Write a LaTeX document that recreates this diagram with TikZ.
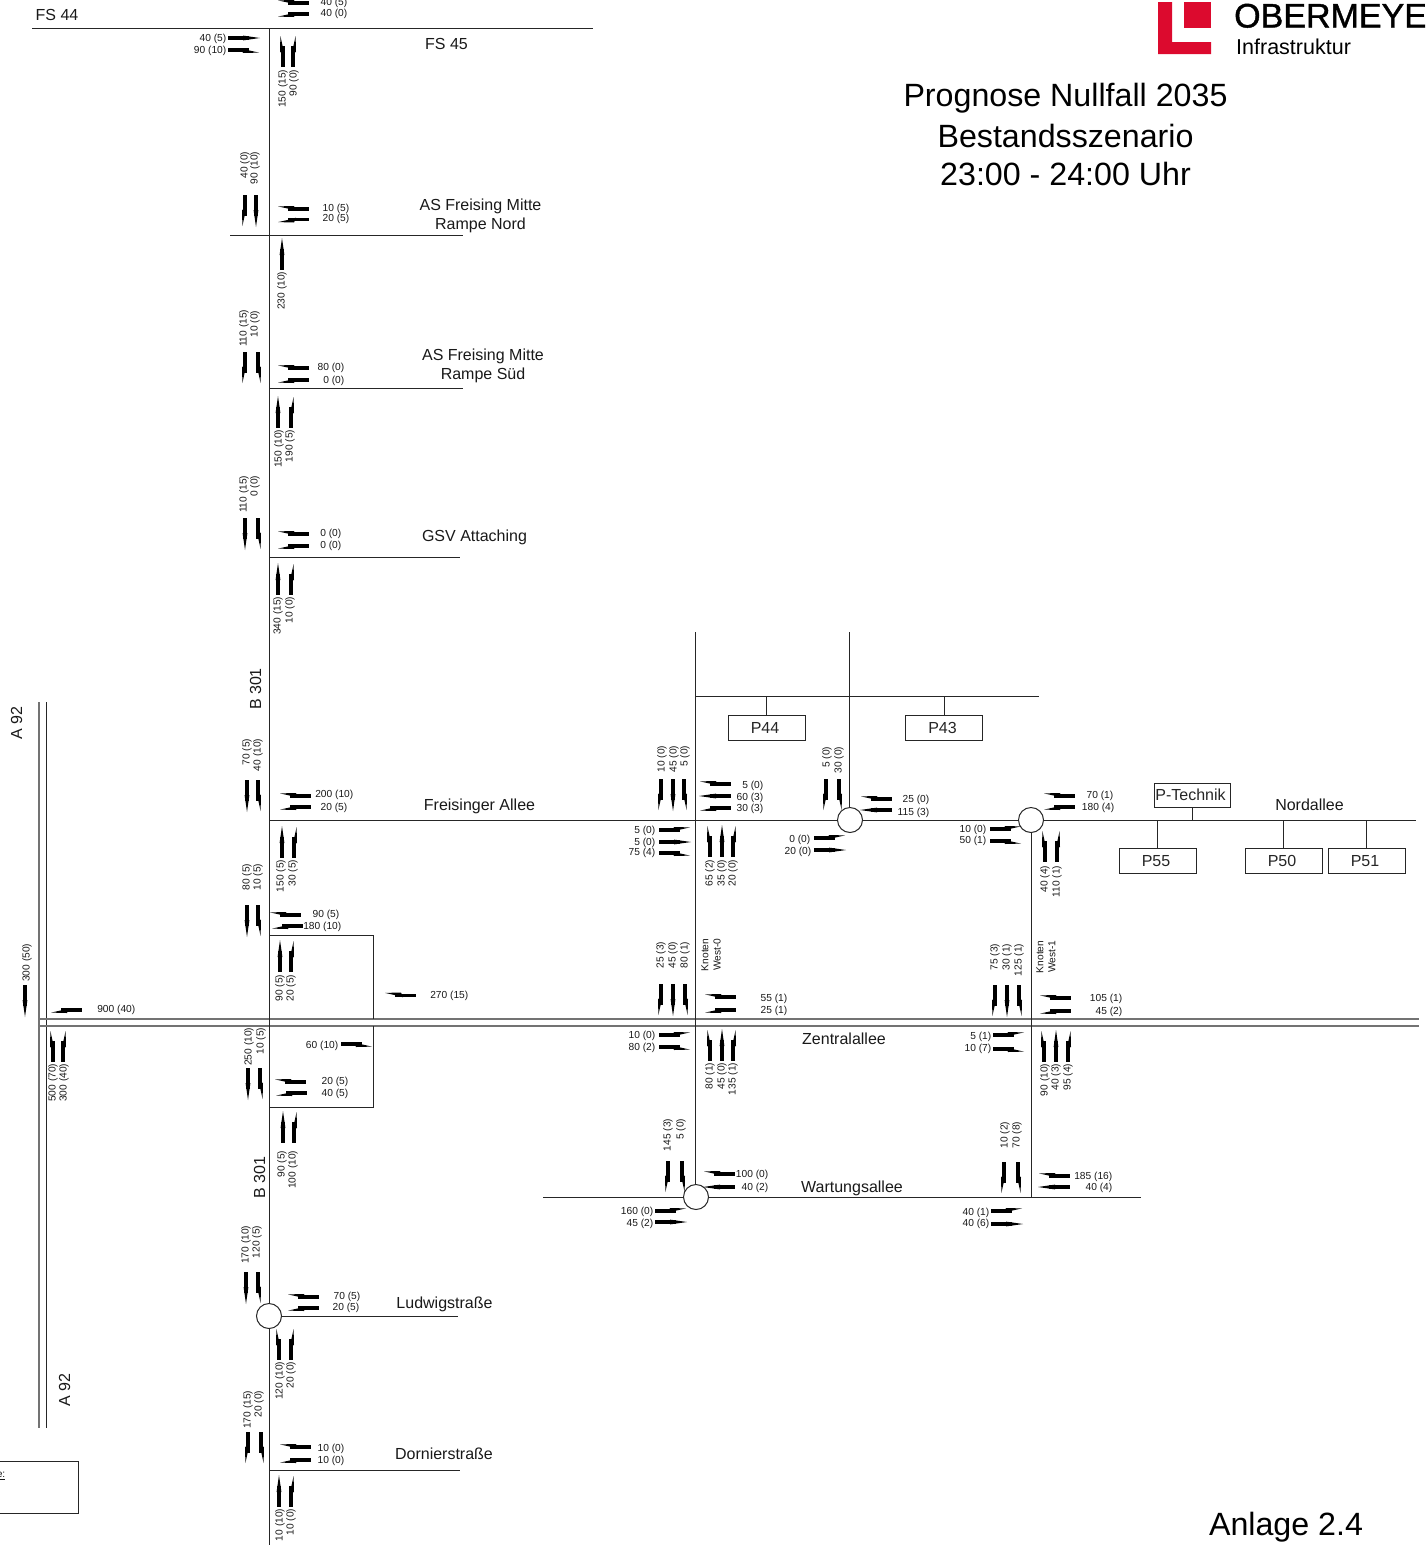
\documentclass[tikz,border=0pt]{standalone}
\usepackage{fontspec}
\setmainfont{Liberation Sans}
\newfontfamily\firmfont[FakeBold=1.2]{Liberation Sans}
\usepackage{xcolor}
\usetikzlibrary{arrows.meta,calc,positioning}
\definecolor{logored}{HTML}{DC0A2E}
\tikzset{
  line cap=butt,
  road/.style={line width=1pt, black!85},
  greyroad/.style={line width=1.3pt, black!55},
  flowtext/.style={inner sep=0pt, anchor=east, black!90, xshift=0.5pt, yshift=-1pt,
    font=\fontsize{10.2pt}{11pt}\selectfont},
  flowup/.style={inner sep=0pt, anchor=east, black!90, rotate=90, xshift=0.5pt,
    font=\fontsize{10.2pt}{11pt}\selectfont},
  streetname/.style={inner sep=0pt, align=center, black!90, yshift=-1pt, font=\fontsize{16pt}{19pt}\selectfont},
  titletext/.style={inner sep=0pt, align=center, font=\fontsize{32.2pt}{40pt}\selectfont},
  parkbox/.style={draw, black!85, line width=1pt, inner sep=0pt, minimum width=77pt, minimum height=25pt,
    font=\fontsize{16pt}{19pt}\selectfont, text depth=0pt, execute at begin node={\kern-3pt}},
  junction/.style={circle, draw, black!85, fill=white, line width=1pt, inner sep=0pt, minimum size=25pt},
  flowS/.pic={
    \fill (0,-1.6) rectangle (21,1.6);
    \fill (15,-2.4) -- (32,0) -- (15,2.4) -- cycle;
  },
  flowR/.pic={
    \fill (0,-1.6) rectangle (21,1.6);
    \fill (13,-1.8) -- (15,3) -- (31,2.6) -- (21,0.4) -- cycle;
  },
  flowL/.pic={
    \fill (0,-1.6) rectangle (21,1.6);
    \fill (13,1.8) -- (15,-3) -- (31,-2.6) -- (21,-0.4) -- cycle;
  }
}

\begin{document}
\begin{tikzpicture}[x=1pt, y=-1pt]
    \useasboundingbox (0,0) rectangle (1425,1545);
    \clip (0,0) rectangle (1425,1545);

    % A 92 and the double road
    \draw[greyroad] (39,702) -- (39,1428);
    \draw[road] (46,702) -- (46,1428);
    \draw[greyroad] (38,1019) -- (1419,1019);
    \draw[greyroad] (38,1026) -- (1419,1026);

    % B 301 and side roads
    \draw[road] (269,28) -- (269,1545);
    \draw[road] (32,28) -- (593,28);
    \draw[road] (230,235) -- (463,235);
    \draw[road] (269,388) -- (463,388);
    \draw[road] (269,557) -- (460,557);
    \draw[road] (269,1316) -- (458,1316);
    \draw[road] (269,1470) -- (460,1470);
    \draw[road] (269,820) -- (1416,820);
    \draw[road] (269,935) -- (373,935) -- (373,1019);
    \draw[road] (373,1026) -- (373,1107) -- (269,1107);
    \draw[road] (-2,1461) -- (78,1461) -- (78,1513) -- (-2,1513);

    % east part
    \draw[road] (695.5,632) -- (695.5,1197);
    \draw[road] (849.5,632) -- (849.5,820);
    \draw[road] (1031,820) -- (1031,1197);
    \draw[road] (696,696) -- (1039,696);
    \draw[road] (543,1197) -- (1141,1197);

    \node[parkbox] (pfourfour) at (766.5,728) {P44};
    \node[parkbox] (pfourthree) at (944,728) {P43};
    \node[parkbox, minimum width=76pt, minimum height=24pt] (ptechnik) at (1192,795) {P-Technik};
    \node[parkbox] (pfivefive) at (1157.5,861) {P55};
    \node[parkbox] (pfivezero) at (1283.5,861) {P50};
    \node[parkbox] (pfiveone) at (1366.5,861) {P51};
    \coordinate (spine) at (766.5,696);
    \draw[road] (spine) -- (pfourfour.north);
    \draw[road] (944,696) -- (pfourthree.north);
    \draw[road] (ptechnik.south) -- (1192,820);
    \draw[road] (1157.5,820) -- (pfivefive.north);
    \draw[road] (1283.5,820) -- (pfivezero.north);
    \draw[road] (1366.5,820) -- (pfiveone.north);

    \node[junction] (kreiselnord) at (850,820) {};
    \node[junction] (kreiselost) at (1031,820) {};
    \node[junction] (kreiselsued) at (696,1197) {};
    \node[junction] (kreiselludwig) at (269,1316) {};

    % arrows on the B 301
    \foreach \ax/\ay/\rot/\kind in {
        309/3/180/R, 309/14/180/L, 228/38/0/S, 228/50/0/R, 283/67/90/L, 293/67/90/R,
        245/195/270/R, 256/195/270/S, 309/209/180/R, 309/219.5/180/L,
        282/270/90/S, 245/352/270/R, 258/352/270/L, 309/368/180/R, 309/380/180/L,
        278/428/90/S, 291/428/90/R, 245/518/270/S, 258/518/270/L, 309/534/180/R, 309/546/180/L,
        278/595/90/S, 291/595/90/R, 247/780/270/S, 258/780/270/L, 311/796/180/R, 311/807/180/L,
        282/858/90/S, 294/858/90/R, 247/905/270/S, 258/905/270/L, 301/915/180/R, 303/926/180/L,
        280/972/90/S, 291/972/90/R, 416/995.5/180/R, 25/985/270/S, 82/1010/180/L,
        53/1062/90/L, 63/1062/90/R, 341/1044/0/R, 248/1068/270/S, 260/1068/270/L,
        306/1082/180/R, 307/1093/180/L, 283/1143/90/S, 294/1143/90/R,
        246/1272/270/S, 258/1272/270/L, 319/1297/180/R, 319/1308/180/L,
        279/1360/90/L, 291/1360/90/R, 248/1432/270/R, 261/1432/270/L,
        311/1447/180/R, 311/1460/180/L, 279/1507/90/S, 291/1507/90/R}
        \pic[rotate=\rot] at (\ax,\ay) {flow\kind};

    % arrows on the east part
    \foreach \ax/\ay/\rot/\kind in {
        661/779/270/R, 673/779/270/S, 684/779/270/L, 731/784/180/R, 731/796/180/S, 731/808/180/L,
        659/830/0/L, 659/842/0/S, 659/853/0/R, 710/857/90/L, 722/857/90/S, 733/857/90/R,
        826/779/270/R, 839/779/270/L, 892/799/180/R, 892/810/180/S, 814/838/0/L, 814/850/0/S,
        1075/796/180/R, 1075/807/180/L, 990/829/0/L, 990/841/0/R, 1045/862/90/L, 1057/862/90/R,
        661/984/270/R, 673/984/270/S, 685/984/270/L, 736/997/180/R, 736/1010/180/L,
        659/1035/0/L, 659/1047/0/R, 710/1061/90/L, 722/1061/90/S, 733/1061/90/R,
        995/985/270/R, 1007/985/270/S, 1019/985/270/L, 1071/998/180/R, 1071/1011/180/L,
        993/1035/0/L, 993/1049/0/R, 1044/1062/90/L, 1056/1062/90/S, 1068/1062/90/R,
        668/1161/270/R, 682/1161/270/L, 735/1174/180/R, 735/1187/180/S, 655/1211/0/L, 655/1222/0/S,
        1004/1162/270/R, 1018/1162/270/L, 1070/1176/180/R, 1070/1187/180/S, 991/1211/0/L, 991/1224/0/S}
        \pic[rotate=\rot] at (\ax,\ay) {flow\kind};

    % horizontal volumes
    \foreach \lx/\ly/\val in {
        347/2/40 (5), 347/13/40 (0), 226/38/40 (5), 226/50/90 (10), 349/208/10 (5), 349/218/20 (5),
        344/367/80 (0), 344/380/0 (0), 341/533/0 (0), 341/545/0 (0), 353/794/200 (10), 347/807/20 (5),
        339/914/90 (5), 341/926/180 (10), 468/995/270 (15), 135/1009/900 (40), 338/1045/60 (10),
        348/1081/20 (5), 348/1093/40 (5), 360/1296/70 (5), 359/1307/20 (5), 344/1448/10 (0), 344/1460/10 (0),
        763/785/5 (0), 763/797/60 (3), 763/808/30 (3), 655/830/5 (0), 655/842/5 (0), 655/852/75 (4),
        929/799/25 (0), 929/812/115 (3), 810/839/0 (0), 811/851/20 (0), 1113/795/70 (1), 1114/807/180 (4),
        986/829/10 (0), 986/840/50 (1), 787/998/55 (1), 787/1010/25 (1), 1122/998/105 (1), 1122/1011/45 (2),
        655/1035/10 (0), 655/1047/80 (2), 991/1036/5 (1), 991/1048/10 (7), 768/1174/100 (0), 768/1187/40 (2),
        1112/1176/185 (16), 1112/1187/40 (4), 653/1211/160 (0), 653/1223/45 (2), 989/1212/40 (1), 989/1223/40 (6)}
        \node[flowtext] (h-\lx-\ly) at (\lx,\ly) {\val};

    % vertical volumes
    \foreach \lx/\ly/\val in {
        283/70/150 (15), 294/70/90 (0), 245/152/40 (0), 255/152/90 (10), 282/272/230 (10),
        244/310/110 (15), 255/311/10 (0), 279/430/150 (10), 290/430/190 (5), 244/476/110 (15), 255/476/0 (0),
        278/597/340 (15), 290/597/10 (0), 247/739/70 (5), 258/739/40 (10), 281/860/150 (5), 293/860/30 (5),
        247/864/80 (5), 258/864/10 (5), 280/975/90 (5), 291/975/20 (5), 27/944/300 (50),
        53/1064/500 (70), 64/1064/300 (40), 249/1028/250 (10), 261/1028/10 (5), 282/1151/90 (5), 293/1151/100 (10),
        246/1226/170 (10), 257/1226/120 (5), 280/1362/120 (10), 291/1362/20 (0), 248/1391/170 (15), 259/1391/20 (0),
        280/1509/10 (10), 291/1509/10 (0), 662/746/10 (0), 674/746/45 (0), 685/746/5 (0),
        710/860/65 (2), 722/860/35 (0), 733/860/20 (0), 827/747/5 (0), 839/747/30 (0),
        661/942/25 (3), 673/942/45 (0), 685/942/80 (1), 710/1063/80 (1), 722/1063/45 (0), 733/1063/135 (1),
        995/944/75 (3), 1007/944/30 (1), 1019/944/125 (1), 1045/1064/90 (10), 1056/1064/40 (3), 1068/1064/95 (4),
        1045/866/40 (4), 1057/866/110 (1), 668/1119/145 (3), 681/1119/5 (0), 1005/1122/10 (2), 1017/1122/70 (8),
        705/939/Knoten, 717/939/West-0, 1040/941/Knoten, 1052/941/West-1}
        \node[flowup] (v-\lx-\ly) at (\lx,\ly) {\val};

    % street names
    \node[streetname] (fsfourfour) at (57,14) {FS 44};
    \node[streetname] (fsfourfive) at (446.5,43) {FS 45};
    \node[streetname] (rampenord) at (480.5,215) {AS Freising Mitte\\Rampe Nord};
    \node[streetname] (rampesued) at (483,365) {AS Freising Mitte\\Rampe Süd};
    \node[streetname] (gsv) at (474.5,536) {GSV Attaching};
    \node[streetname] (freisinger) at (479.5,805) {Freisinger Allee};
    \node[streetname] (nordallee) at (1309.5,804) {Nordallee};
    \node[streetname] (zentralallee) at (844,1038) {Zentralallee};
    \node[streetname] (wartung) at (852,1187) {Wartungsallee};
    \node[streetname] (ludwig) at (444.5,1303) {Ludwigstraße};
    \node[streetname] (dornier) at (444,1453) {Dornierstraße};
    \node[streetname, rotate=90, yshift=1pt] (bnorth) at (256.5,688) {B 301};
    \node[streetname, rotate=90, yshift=1pt] (bsouth) at (260.5,1176.5) {B 301};
    \node[streetname, rotate=90, yshift=1pt] (anorth) at (17.5,722.5) {A 92};
    \node[streetname, rotate=90, yshift=1pt] (asouth) at (65.5,1389.5) {A 92};
    \node[flowtext] (legend) at (5,1475) {\underline{e:}};

    % title and logo
    \fill[logored] (1158,2) -- (1172,2) -- (1172,42) -- (1211,42) -- (1211,54) -- (1158,54) -- cycle;
    \fill[logored] (1184,2) rectangle (1211,28);
    \node[inner sep=0pt, anchor=base west, font=\firmfont\fontsize{34pt}{40pt}\selectfont] (firm) at (1234,27.5) {OBERMEYER};
    \node[inner sep=0pt, anchor=base west, font=\fontsize{21.5pt}{24pt}\selectfont] (firmsub) at (1236,54) {Infrastruktur};
    \node[titletext] (titleone) at (1065.5,98) {Prognose Nullfall 2035};
    \node[titletext] (titletwo) at (1065.5,136) {Bestandsszenario};
    \node[titletext] (titlethree) at (1065.5,174) {23:00 - 24:00 Uhr};
    \node[titletext] (anlage) at (1286,1527) {Anlage 2.4};
\end{tikzpicture}
\end{document}
